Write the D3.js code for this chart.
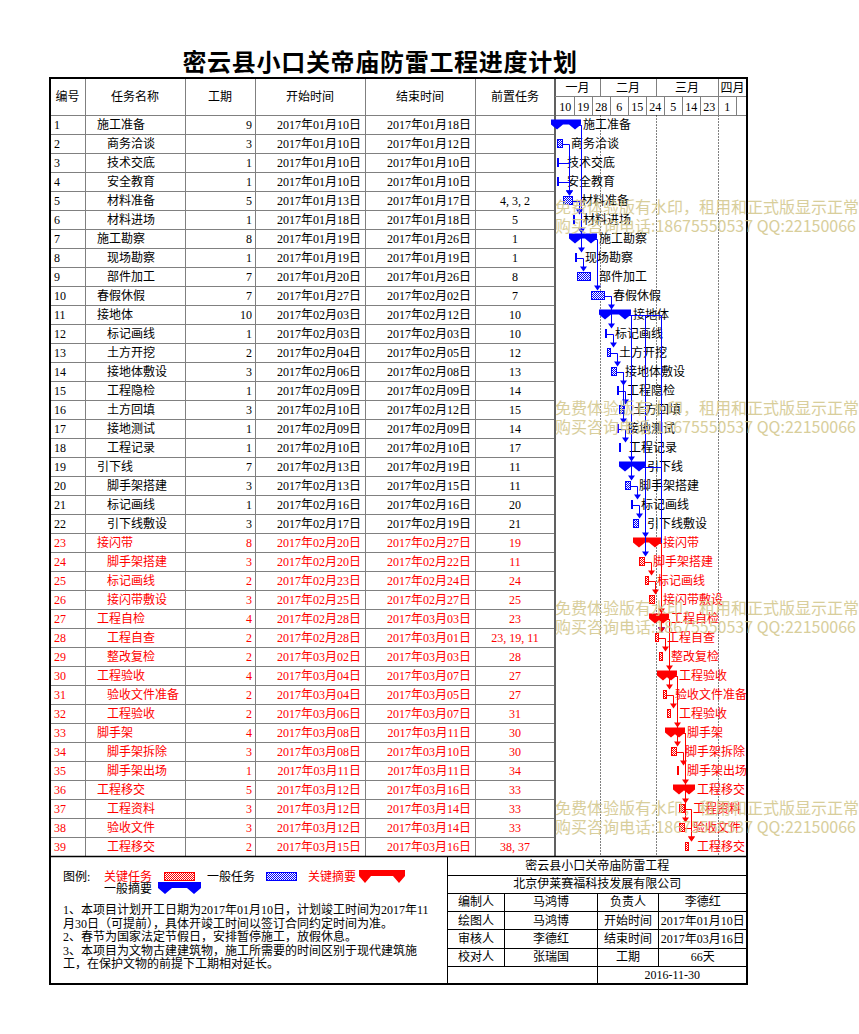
<!DOCTYPE html>
<meta charset="utf-8">
<style>
    body { margin: 0; background: #fff; }
    svg { overflow: visible; }
    svg text {
        font-family: "Liberation Serif", "Noto Sans CJK SC", sans-serif;
        font-size: 12px;
    }
    .grid { stroke: #808080; stroke-width: 1; shape-rendering: crispEdges; }
    .black { stroke: #000; stroke-width: 1; shape-rendering: crispEdges; fill: none; }
    .month-line { stroke: #000; stroke-width: 1; stroke-dasharray: 1,2; }
    .title { font-family: "Noto Sans CJK SC", sans-serif; font-size: 24px; font-weight: 700; letter-spacing: 0.7px; }
    .watermark { font-family: "Noto Sans CJK SC", sans-serif; font-size: 16px; fill: #d2c68a; opacity: 0.85; }
</style>
<body>
<script src="https://d3js.org/d3.v7.min.js"></script>
<script>

// ---- data ----
const taskNames = [
    "施工准备", "商务洽谈", "技术交底", "安全教育", "材料准备", "材料进场",
    "施工勘察", "现场勘察", "部件加工", "春假休假", "接地体", "标记画线",
    "土方开挖", "接地体敷设", "工程隐检", "土方回填", "接地测试", "工程记录",
    "引下线", "脚手架搭建", "标记画线", "引下线敷设", "接闪带", "脚手架搭建",
    "标记画线", "接闪带敷设", "工程自检", "工程自查", "整改复检", "工程验收",
    "验收文件准备", "工程验收", "脚手架", "脚手架拆除", "脚手架出场", "工程移交",
    "工程资料", "验收文件", "工程移交"
];
const taskLevels = [0,1,1,1,1,1, 0,1,1,0,0,1, 1,1,1,1,1,1, 0,1,1,1,0,1,
    1,1,0,1,1,0, 1,1,0,1,1,0, 1,1,1];
const durations = [9,3,1,1,5,1, 8,1,7,7,10,1, 2,3,1,3,1,1, 7,3,1,3,8,3,
    2,3,4,2,2,4, 2,2,4,3,1,5, 3,3,2];
const startDates = [
    "2017-01-10","2017-01-10","2017-01-10","2017-01-10","2017-01-13","2017-01-18",
    "2017-01-19","2017-01-19","2017-01-20","2017-01-27","2017-02-03","2017-02-03",
    "2017-02-04","2017-02-06","2017-02-09","2017-02-10","2017-02-09","2017-02-10",
    "2017-02-13","2017-02-13","2017-02-16","2017-02-17","2017-02-20","2017-02-20",
    "2017-02-23","2017-02-25","2017-02-28","2017-02-28","2017-03-02","2017-03-04",
    "2017-03-04","2017-03-06","2017-03-08","2017-03-08","2017-03-11","2017-03-12",
    "2017-03-12","2017-03-12","2017-03-15"
];
const endDates = [
    "2017-01-18","2017-01-12","2017-01-10","2017-01-10","2017-01-17","2017-01-18",
    "2017-01-26","2017-01-19","2017-01-26","2017-02-02","2017-02-12","2017-02-03",
    "2017-02-05","2017-02-08","2017-02-09","2017-02-12","2017-02-09","2017-02-10",
    "2017-02-19","2017-02-15","2017-02-16","2017-02-19","2017-02-27","2017-02-22",
    "2017-02-24","2017-02-27","2017-03-03","2017-03-01","2017-03-03","2017-03-07",
    "2017-03-05","2017-03-07","2017-03-11","2017-03-10","2017-03-11","2017-03-16",
    "2017-03-14","2017-03-14","2017-03-16"
];
const predecessors = [
    [],[],[],[],[4,3,2],[5], [1],[1],[8],[7],[10],[10],
    [12],[13],[14],[15],[14],[17], [11],[11],[20],[21],[19],[11],
    [24],[25],[23],[23,19,11],[28],[27], [27],[31],[30],[30],[34],[33],
    [33],[33],[38,37]
];
const summaryIds = [1, 7, 11, 19, 23, 27, 30, 33, 36];
const firstCriticalId = 23;

const monthLabels = ["一月", "二月", "三月", "四月"];
const monthStarts = ["2017-01-10", "2017-02-01", "2017-03-01", "2017-04-01", "2017-04-10"];
const dayTicks = ["2017-01-10","2017-01-19","2017-01-28","2017-02-06","2017-02-15",
    "2017-02-24","2017-03-05","2017-03-14","2017-03-23","2017-04-01","2017-04-10"];

const headers = ["编号", "任务名称", "工期", "开始时间", "结束时间", "前置任务"];

const legendItems = ["关键任务", "一般任务", "关键摘要", "一般摘要"];
const notes = [
    "1、本项目计划开工日期为2017年01月10日，计划竣工时间为2017年11",
    "月30日（可提前），具体开竣工时间以签订合同约定时间为准。",
    "2、春节为国家法定节假日，安排暂停施工，放假休息。",
    "3、本项目为文物古建建筑物，施工所需要的时间区别于现代建筑施",
    "工，在保护文物的前提下工期相对延长。"
];
const infoRows = [
    ["密云县小口关帝庙防雷工程"],
    ["北京伊莱赛福科技发展有限公司"],
    ["编制人", "马鸿博", "负责人", "李德红"],
    ["绘图人", "马鸿博", "开始时间", "2017年01月10日"],
    ["审核人", "李德红", "结束时间", "2017年03月16日"],
    ["校对人", "张瑞国", "工期", "66天"],
    ["", "2016-11-30"]
];
const watermarkLines = ["免费体验版有水印，租用和正式版显示正常", "购买咨询电话:18675550537 QQ:22150066"];

// ---- build ----
const parse = d3.utcParse("%Y-%m-%d");
const fmt = d3.utcFormat("%Y年%m月%d日");
const nextDay = d => d3.utcDay.offset(d, 1);

const tasks = taskNames.map((name, i) => ({
    id: i + 1,
    name,
    level: taskLevels[i],
    dur: durations[i],
    start: parse(startDates[i]),
    end: parse(endDates[i]),
    pred: predecessors[i],
    summary: summaryIds.includes(i + 1),
    critical: i + 1 >= firstCriticalId
}));
const byId = new Map(tasks.map(t => [t.id, t]));

const width = 859, height = 1034;
const frameL = 50, frameR = 747, frameT = 78, rowsTop = 115.5, rowH = 19;
const rowsBottom = rowsTop + rowH * tasks.length;
const frameB = 984;
const colX = [50, 85, 185, 255, 365, 475, 555];

const x = d3.scaleUtc()
    .domain([parse("2017-01-10"), parse("2017-04-10")])
    .range([557, 737]);
const y = d3.scaleBand()
    .domain(tasks.map(t => t.id))
    .range([rowsTop, rowsBottom]);
const yc = id => y(id) + y.bandwidth() / 2;
const colorOf = t => t.critical ? "#ff0000" : "#0000ff";

const svg = d3.select("body").append("svg")
    .attr("width", width)
    .attr("height", height);

// patterns
const defs = svg.append("defs");
[["blueCheck", "#0000ff"], ["redCheck", "#ff0000"]].forEach(([id, c]) => {
    const p = defs.append("pattern").attr("id", id)
        .attr("width", 2).attr("height", 2).attr("patternUnits", "userSpaceOnUse");
    p.append("rect").attr("width", 2).attr("height", 2).attr("fill", "#fff");
    p.append("rect").attr("width", 1).attr("height", 1).attr("fill", c);
    p.append("rect").attr("x", 1).attr("y", 1).attr("width", 1).attr("height", 1).attr("fill", c);
});

// title
svg.append("text").attr("class", "title")
    .attr("x", 380).attr("y", 62).attr("dy", "0.36em")
    .attr("text-anchor", "middle")
    .text("密云县小口关帝庙防雷工程进度计划");

// ---- table grid ----
const grid = svg.append("g");
tasks.forEach((t, i) => {
    if (i === 0) return;
    grid.append("line").attr("class", "grid")
        .attr("x1", frameL).attr("x2", colX[6])
        .attr("y1", y(t.id)).attr("y2", y(t.id));
});
grid.append("line").attr("class", "grid")
    .attr("x1", frameL).attr("x2", frameR).attr("y1", rowsTop).attr("y2", rowsTop);
colX.slice(1, 6).forEach(cx => {
    grid.append("line").attr("class", "grid")
        .attr("x1", cx + 0.5).attr("x2", cx + 0.5).attr("y1", frameT).attr("y2", rowsBottom);
});
grid.append("line")
    .attr("x1", 555).attr("x2", 555).attr("y1", frameT).attr("y2", rowsBottom)
    .attr("stroke", "#606060").attr("stroke-width", 2);

// gantt header
grid.append("line").attr("class", "grid")
    .attr("x1", 555).attr("x2", frameR).attr("y1", 96.5).attr("y2", 96.5);
monthStarts.slice(1, 4).forEach(d => {
    const mx = Math.round(x(parse(d))) - 0.5;
    grid.append("line").attr("class", "grid")
        .attr("x1", mx).attr("x2", mx).attr("y1", frameT).attr("y2", 96.5);
    grid.append("line").attr("class", "month-line")
        .attr("x1", mx).attr("x2", mx).attr("y1", rowsTop).attr("y2", rowsBottom);
});
monthLabels.forEach((m, i) => {
    const x0 = i === 0 ? 555 : x(parse(monthStarts[i])) - 1;
    const x1 = i === 3 ? frameR : x(parse(monthStarts[i + 1])) - 1;
    svg.append("text").attr("x", (x0 + x1) / 2).attr("y", 87.5).attr("dy", "0.36em")
        .attr("text-anchor", "middle").text(m);
});
dayTicks.forEach((d, i) => {
    const dx = Math.round(x(parse(d))) - 0.5;
    if (i > 0) {
        grid.append("line").attr("class", "grid")
            .attr("x1", dx).attr("x2", dx).attr("y1", 96.5).attr("y2", rowsTop);
    }
    if (i < dayTicks.length - 1) {
        const nx = x(parse(dayTicks[i + 1])) - 1;
        svg.append("text").attr("x", (dx + nx) / 2).attr("y", 106.5).attr("dy", "0.36em")
            .attr("text-anchor", "middle").text(d3.utcFormat("%-d")(parse(d)));
    }
});

// table header text
headers.forEach((h, i) => {
    svg.append("text")
        .attr("x", (colX[i] + colX[i + 1]) / 2).attr("y", 97).attr("dy", "0.36em")
        .attr("text-anchor", "middle").text(h);
});

// table rows
const rows = svg.append("g").selectAll("g").data(tasks).join("g")
    .attr("transform", t => `translate(0,${yc(t.id)})`)
    .attr("fill", t => t.critical ? "#ff0000" : "#000");
rows.append("text").attr("x", 54).attr("dy", "0.36em").text(t => t.id);
rows.append("text").attr("x", t => t.level ? 107 : 97).attr("dy", "0.36em").text(t => t.name);
rows.append("text").attr("x", 252).attr("dy", "0.36em").attr("text-anchor", "end").text(t => t.dur);
rows.append("text").attr("x", 361).attr("dy", "0.36em").attr("text-anchor", "end").text(t => fmt(t.start));
rows.append("text").attr("x", 471).attr("dy", "0.36em").attr("text-anchor", "end").text(t => fmt(t.end));
rows.append("text").attr("x", 515).attr("dy", "0.36em").attr("text-anchor", "middle")
    .text(t => t.pred.join(", "));

// ---- gantt bars ----
function summaryPath(x0, x1, yy, cap, barH, tipH) {
    return `M${x0 - cap},${yy} H${x1 + cap} V${yy + barH} L${x1},${yy + tipH} L${x1 - cap},${yy + barH}` +
        ` H${x0 + cap} L${x0},${yy + tipH} L${x0 - cap},${yy + barH} Z`;
}

const bars = svg.append("g");
tasks.forEach(t => {
    const x0 = x(t.start), x1 = x(nextDay(t.end)), c = yc(t.id);
    if (t.summary) {
        bars.append("path")
            .attr("d", summaryPath(x0, x1, c - 5.5, 6, 5, 10))
            .attr("fill", colorOf(t));
    } else {
        bars.append("rect")
            .attr("x", x0 + 0.5).attr("y", c - 4.5)
            .attr("width", Math.max(x1 - x0 - 1, 0.5)).attr("height", 8)
            .attr("fill", t.critical ? "url(#redCheck)" : "url(#blueCheck)")
            .attr("stroke", colorOf(t)).attr("stroke-width", 1);
    }
    bars.append("text")
        .attr("x", x1 + 8).attr("y", c).attr("dy", "0.36em")
        .attr("fill", t.critical ? "#ff0000" : "#000")
        .text(t.name);
});

// ---- links ----
const links = svg.append("g").attr("fill", "none");
tasks.forEach(t => {
    t.pred.slice().reverse().forEach(pid => {
        const p = byId.get(pid);
        const xs = Math.round(x(t.start)) + 6.5;
        const yTop = yc(t.id) - 5.5;
        const col = colorOf(p);
        links.append("path")
            .attr("d", `M${x(nextDay(p.end))},${Math.round(yc(p.id)) + 0.5} H${xs} V${yTop - 4}`)
            .attr("stroke", col).attr("stroke-width", 1);
        links.append("path")
            .attr("d", `M${xs - 3.5},${yTop - 5} H${xs + 3.5} L${xs},${yTop} Z`)
            .attr("fill", col);
    });
});

// ---- outer frame and bottom section ----
svg.append("rect").attr("x", frameL).attr("y", frameT)
    .attr("width", frameR - frameL).attr("height", frameB - frameT)
    .attr("fill", "none").attr("stroke", "#000").attr("stroke-width", 2);
svg.append("line").attr("x1", frameL).attr("x2", frameR).attr("y1", rowsBottom).attr("y2", rowsBottom)
    .attr("stroke", "#000").attr("stroke-width", 1.5);
svg.append("line").attr("class", "black")
    .attr("x1", 447.5).attr("x2", 447.5).attr("y1", rowsBottom).attr("y2", frameB);

// legend
const lg = svg.append("g");
lg.append("text").attr("x", 63).attr("y", 877).attr("dy", "0.36em").text("图例:");
lg.append("text").attr("x", 104).attr("y", 877).attr("dy", "0.36em").attr("fill", "#ff0000").text(legendItems[0]);
lg.append("rect").attr("x", 164.5).attr("y", 872.5).attr("width", 30).attr("height", 8)
    .attr("fill", "url(#redCheck)").attr("stroke", "#ff0000");
lg.append("text").attr("x", 207).attr("y", 877).attr("dy", "0.36em").text(legendItems[1]);
lg.append("rect").attr("x", 266.5).attr("y", 872.5).attr("width", 30).attr("height", 8)
    .attr("fill", "url(#blueCheck)").attr("stroke", "#0000ff");
lg.append("text").attr("x", 308).attr("y", 877).attr("dy", "0.36em").attr("fill", "#ff0000").text(legendItems[2]);
lg.append("path").attr("d", summaryPath(365, 399, 870, 6, 6, 13)).attr("fill", "#ff0000");
lg.append("text").attr("x", 104).attr("y", 889).attr("dy", "0.36em").text(legendItems[3]);
lg.append("path").attr("d", summaryPath(165, 194, 882, 7, 6, 12)).attr("fill", "#0000ff");

notes.forEach((n, i) => {
    lg.append("text").attr("x", 63).attr("y", 910 + i * 13.5).attr("dy", "0.36em").text(n);
});

// info table
const infoCols = [447.5, 504.5, 597.5, 658.5, frameR];
const infoH = (frameB - rowsBottom) / infoRows.length;
const info = svg.append("g");
infoRows.forEach((r, i) => {
    const ry = rowsBottom + i * infoH;
    if (i > 0) {
        info.append("line").attr("class", "black")
            .attr("x1", 447.5).attr("x2", frameR).attr("y1", Math.round(ry) + 0.5).attr("y2", Math.round(ry) + 0.5);
    }
    let spans;
    if (r.length === 1) spans = [[infoCols[0], infoCols[4]]];
    else if (r.length === 2) spans = [[infoCols[0], infoCols[2]], [infoCols[2], infoCols[4]]];
    else spans = [0, 1, 2, 3].map(k => [infoCols[k], infoCols[k + 1]]);
    spans.forEach(([a, b], k) => {
        if (k > 0) {
            info.append("line").attr("class", "black")
                .attr("x1", a).attr("x2", a).attr("y1", ry).attr("y2", ry + infoH);
        }
        info.append("text").attr("x", (a + b) / 2).attr("y", ry + infoH / 2).attr("dy", "0.36em")
            .attr("text-anchor", "middle").text(r[k]);
    });
});

// watermark
[207, 408, 608, 808].forEach(wy => {
    watermarkLines.forEach((w, i) => {
        svg.append("text").attr("class", "watermark")
            .attr("x", 555).attr("y", wy + i * 19).attr("dy", "0.36em").text(w);
    });
});

</script>
</body>
</html>
